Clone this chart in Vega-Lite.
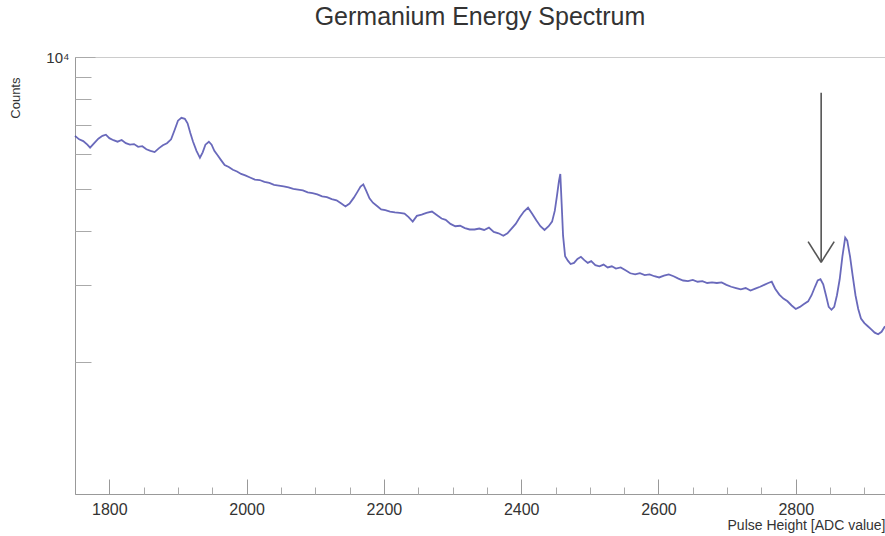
{
  "$schema": "https://vega.github.io/schema/vega-lite/v6.json",
  "width": 810,
  "height": 437,
  "autosize": "none",
  "padding": {"left": 75, "top": 57, "right": 0, "bottom": 42},
  "background": "white",
  "title": {"text": "Germanium Energy Spectrum", "font": "Liberation Sans", "fontSize": 25, "fontWeight": "normal", "color": "#333333", "anchor": "middle", "frame": "group", "baseline": "alphabetic", "offset": 0},
  "config": {"view": {"stroke": "#cccccc", "strokeWidth": 1}},
  "datasets": {
    "spectrum": [
      {"px": 1750, "counts": 6600}, {"px": 1756, "counts": 6480}, {"px": 1762, "counts": 6420}, {"px": 1768, "counts": 6300},
      {"px": 1772, "counts": 6200}, {"px": 1778, "counts": 6350}, {"px": 1784, "counts": 6500}, {"px": 1790, "counts": 6600},
      {"px": 1795, "counts": 6640}, {"px": 1800, "counts": 6520}, {"px": 1806, "counts": 6450}, {"px": 1812, "counts": 6400},
      {"px": 1818, "counts": 6460}, {"px": 1824, "counts": 6350}, {"px": 1830, "counts": 6300}, {"px": 1836, "counts": 6320},
      {"px": 1842, "counts": 6230}, {"px": 1848, "counts": 6250}, {"px": 1854, "counts": 6150}, {"px": 1860, "counts": 6100},
      {"px": 1866, "counts": 6060}, {"px": 1872, "counts": 6180}, {"px": 1878, "counts": 6280}, {"px": 1884, "counts": 6350},
      {"px": 1890, "counts": 6480}, {"px": 1895, "counts": 6800}, {"px": 1900, "counts": 7150}, {"px": 1905, "counts": 7260},
      {"px": 1910, "counts": 7220}, {"px": 1914, "counts": 7050}, {"px": 1918, "counts": 6700}, {"px": 1922, "counts": 6400},
      {"px": 1927, "counts": 6100}, {"px": 1932, "counts": 5880}, {"px": 1936, "counts": 6050}, {"px": 1940, "counts": 6300},
      {"px": 1945, "counts": 6400}, {"px": 1949, "counts": 6300}, {"px": 1953, "counts": 6100}, {"px": 1958, "counts": 5950},
      {"px": 1963, "counts": 5800}, {"px": 1968, "counts": 5660}, {"px": 1974, "counts": 5600}, {"px": 1980, "counts": 5520},
      {"px": 1986, "counts": 5470}, {"px": 1992, "counts": 5400}, {"px": 1998, "counts": 5360}, {"px": 2005, "counts": 5300},
      {"px": 2012, "counts": 5240}, {"px": 2019, "counts": 5230}, {"px": 2026, "counts": 5180}, {"px": 2033, "counts": 5150},
      {"px": 2040, "counts": 5100}, {"px": 2047, "counts": 5080}, {"px": 2054, "counts": 5060}, {"px": 2061, "counts": 5030},
      {"px": 2068, "counts": 4990}, {"px": 2075, "counts": 4970}, {"px": 2082, "counts": 4950}, {"px": 2089, "counts": 4900},
      {"px": 2096, "counts": 4880}, {"px": 2103, "counts": 4850}, {"px": 2110, "counts": 4800}, {"px": 2117, "counts": 4780},
      {"px": 2124, "counts": 4730}, {"px": 2131, "counts": 4700}, {"px": 2138, "counts": 4620}, {"px": 2144, "counts": 4550},
      {"px": 2150, "counts": 4620}, {"px": 2156, "counts": 4760}, {"px": 2161, "counts": 4900}, {"px": 2166, "counts": 5050},
      {"px": 2170, "counts": 5110}, {"px": 2174, "counts": 4950}, {"px": 2179, "counts": 4750}, {"px": 2184, "counts": 4640},
      {"px": 2190, "counts": 4560}, {"px": 2196, "counts": 4480}, {"px": 2202, "counts": 4460}, {"px": 2209, "counts": 4430},
      {"px": 2216, "counts": 4410}, {"px": 2223, "counts": 4400}, {"px": 2230, "counts": 4380}, {"px": 2236, "counts": 4300},
      {"px": 2242, "counts": 4200}, {"px": 2248, "counts": 4330}, {"px": 2255, "counts": 4360}, {"px": 2262, "counts": 4400},
      {"px": 2270, "counts": 4430}, {"px": 2277, "counts": 4350}, {"px": 2284, "counts": 4270}, {"px": 2290, "counts": 4240},
      {"px": 2297, "counts": 4150}, {"px": 2304, "counts": 4100}, {"px": 2311, "counts": 4110}, {"px": 2318, "counts": 4060},
      {"px": 2325, "counts": 4030}, {"px": 2332, "counts": 4030}, {"px": 2339, "counts": 4050}, {"px": 2346, "counts": 4020},
      {"px": 2353, "counts": 4070}, {"px": 2360, "counts": 3980}, {"px": 2367, "counts": 3950}, {"px": 2374, "counts": 3900},
      {"px": 2380, "counts": 3950}, {"px": 2386, "counts": 4050}, {"px": 2392, "counts": 4150}, {"px": 2398, "counts": 4300},
      {"px": 2404, "counts": 4430}, {"px": 2410, "counts": 4520}, {"px": 2416, "counts": 4380}, {"px": 2422, "counts": 4230},
      {"px": 2428, "counts": 4100}, {"px": 2434, "counts": 4020}, {"px": 2440, "counts": 4100}, {"px": 2445, "counts": 4200},
      {"px": 2449, "counts": 4450}, {"px": 2452, "counts": 4800}, {"px": 2455, "counts": 5200}, {"px": 2457, "counts": 5400},
      {"px": 2459, "counts": 4600}, {"px": 2461, "counts": 3900}, {"px": 2464, "counts": 3500}, {"px": 2468, "counts": 3420},
      {"px": 2472, "counts": 3360}, {"px": 2477, "counts": 3380}, {"px": 2482, "counts": 3450}, {"px": 2487, "counts": 3490},
      {"px": 2492, "counts": 3430}, {"px": 2497, "counts": 3380}, {"px": 2502, "counts": 3410}, {"px": 2508, "counts": 3340},
      {"px": 2514, "counts": 3320}, {"px": 2520, "counts": 3350}, {"px": 2526, "counts": 3300}, {"px": 2532, "counts": 3320},
      {"px": 2538, "counts": 3280}, {"px": 2545, "counts": 3300}, {"px": 2552, "counts": 3250}, {"px": 2559, "counts": 3200},
      {"px": 2566, "counts": 3180}, {"px": 2573, "counts": 3200}, {"px": 2580, "counts": 3170}, {"px": 2587, "counts": 3180},
      {"px": 2594, "counts": 3150}, {"px": 2601, "counts": 3130}, {"px": 2608, "counts": 3160}, {"px": 2615, "counts": 3180},
      {"px": 2622, "counts": 3150}, {"px": 2629, "counts": 3110}, {"px": 2636, "counts": 3080}, {"px": 2643, "counts": 3070},
      {"px": 2650, "counts": 3090}, {"px": 2657, "counts": 3060}, {"px": 2664, "counts": 3070}, {"px": 2671, "counts": 3040},
      {"px": 2678, "counts": 3050}, {"px": 2685, "counts": 3040}, {"px": 2692, "counts": 3050}, {"px": 2699, "counts": 3010},
      {"px": 2706, "counts": 2980}, {"px": 2713, "counts": 2960}, {"px": 2720, "counts": 2940}, {"px": 2727, "counts": 2960},
      {"px": 2734, "counts": 2920}, {"px": 2741, "counts": 2950}, {"px": 2748, "counts": 2980}, {"px": 2754, "counts": 3010},
      {"px": 2760, "counts": 3040}, {"px": 2765, "counts": 3060}, {"px": 2770, "counts": 2950}, {"px": 2776, "counts": 2860},
      {"px": 2782, "counts": 2800}, {"px": 2788, "counts": 2760}, {"px": 2794, "counts": 2700}, {"px": 2800, "counts": 2650},
      {"px": 2806, "counts": 2680}, {"px": 2812, "counts": 2720}, {"px": 2818, "counts": 2760}, {"px": 2823, "counts": 2850},
      {"px": 2828, "counts": 2980}, {"px": 2832, "counts": 3080}, {"px": 2836, "counts": 3100}, {"px": 2840, "counts": 3020},
      {"px": 2844, "counts": 2850}, {"px": 2848, "counts": 2680}, {"px": 2852, "counts": 2640}, {"px": 2856, "counts": 2680},
      {"px": 2860, "counts": 2850}, {"px": 2864, "counts": 3100}, {"px": 2868, "counts": 3500}, {"px": 2872, "counts": 3860},
      {"px": 2875, "counts": 3800}, {"px": 2879, "counts": 3500}, {"px": 2883, "counts": 3150}, {"px": 2887, "counts": 2850},
      {"px": 2891, "counts": 2650}, {"px": 2895, "counts": 2520}, {"px": 2900, "counts": 2460}, {"px": 2905, "counts": 2420},
      {"px": 2910, "counts": 2380}, {"px": 2915, "counts": 2340}, {"px": 2920, "counts": 2320}, {"px": 2925, "counts": 2350},
      {"px": 2930, "counts": 2420}
    ],
    "shaft": [{"px": 2837, "counts": 8280, "px2": 2837, "counts2": 3390}],
    "head": [
      {"px": 2818, "counts": 3780, "px2": 2837, "counts2": 3390},
      {"px": 2856, "counts": 3780, "px2": 2837, "counts2": 3390}
    ]
  },
  "resolve": {"axis": {"x": "independent", "y": "independent"}},
  "layer": [
    {
      "data": {"name": "spectrum"},
      "mark": {"type": "line", "color": "#4444aa", "strokeWidth": 1.8, "opacity": 0.8},
      "encoding": {
        "x": {"field": "px", "type": "quantitative",
              "scale": {"domain": [1750, 2930], "nice": false, "zero": false},
              "axis": {"orient": "bottom", "values": [1800, 2000, 2200, 2400, 2600, 2800], "format": "d", "ticks": false, "grid": false,
                       "domainColor": "#999999", "labelFont": "Liberation Sans", "labelFontSize": 16, "labelColor": "#333333",
                       "labelPadding": 7, "title": "Pulse Height [ADC value]", "titleFont": "Liberation Sans", "titleFontSize": 14,
                       "titleFontWeight": "normal", "titleColor": "#333333", "titleAnchor": "end", "titleAlign": "right",
                       "titleX": 810, "titleY": 24, "titleBaseline": "top"}},
        "y": {"field": "counts", "type": "quantitative",
              "scale": {"type": "log", "domain": [1000, 10000], "nice": false},
              "axis": {"orient": "left", "values": [10000], "labelExpr": "'10⁴'", "ticks": false, "grid": false,
                       "domainColor": "#999999", "labelFont": "Liberation Sans", "labelFontSize": 15, "labelColor": "#333333",
                       "labelPadding": 6, "title": "Counts", "titleFont": "Liberation Sans", "titleFontSize": 13,
                       "titleFontWeight": "normal", "titleColor": "#333333", "titleAngle": -90, "titleX": -60, "titleY": 20,
                       "titleAlign": "right", "titleBaseline": "middle"}}
      }
    },
    {
      "data": {"name": "shaft"},
      "mark": {"type": "rule", "color": "#555555", "strokeWidth": 1.6},
      "encoding": {
        "x": {"field": "px", "type": "quantitative",
              "axis": {"orient": "bottom", "values": [1800, 2000, 2200, 2400, 2600, 2800], "tickSize": -15, "tickColor": "#999999",
                       "labels": false, "domain": false, "grid": false, "title": null}},
        "x2": {"field": "px2"},
        "y": {"field": "counts", "type": "quantitative",
              "axis": {"orient": "left", "values": [2000, 3000, 4000, 5000, 6000, 7000, 8000, 9000, 10000], "tickSize": -16,
                       "tickColor": "#aaaaaa", "labels": false, "domain": false, "grid": false, "title": null}},
        "y2": {"field": "counts2"}
      }
    },
    {
      "data": {"name": "head"},
      "mark": {"type": "rule", "color": "#555555", "strokeWidth": 1.6},
      "encoding": {
        "x": {"field": "px", "type": "quantitative",
              "axis": {"orient": "bottom", "values": [1750, 1850, 1900, 1950, 2050, 2100, 2150, 2250, 2300, 2350, 2450, 2500, 2550, 2650, 2700, 2750, 2850, 2900],
                       "tickSize": -7, "tickColor": "#aaaaaa", "labels": false, "domain": false, "grid": false, "title": null}},
        "x2": {"field": "px2"},
        "y": {"field": "counts", "type": "quantitative",
              "axis": {"orient": "left", "values": [10000], "tickSize": -20, "tickColor": "#aaaaaa",
                       "labels": false, "domain": false, "grid": false, "title": null}},
        "y2": {"field": "counts2"}
      }
    }
  ]
}
